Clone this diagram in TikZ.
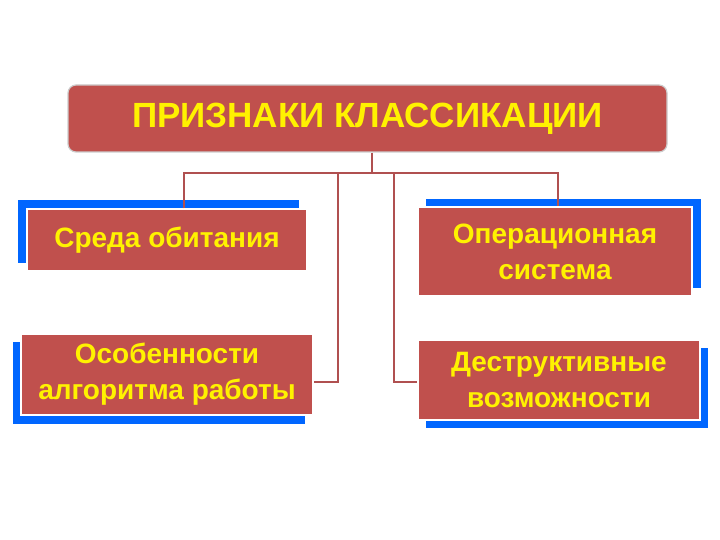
\documentclass[tikz,border=0pt]{standalone}
\usepackage{fontspec}
\setmainfont{Liberation Sans}
\definecolor{rb}{HTML}{C0504D}
\definecolor{bl}{HTML}{0066FF}
\definecolor{yl}{HTML}{FFF200}
\definecolor{ln}{HTML}{B05050}
\begin{document}
\begin{tikzpicture}[x=1pt,y=-1pt,
  card/.style={fill=rb,draw=white,line width=1.2pt,text=yl,font=\bfseries\fontsize{28}{36}\selectfont,align=center,inner sep=0pt},
  shade/.style={fill=bl},
  link/.style={draw=ln,line width=2pt}]
\useasboundingbox (0,0) rectangle (720,540);
% title
\node[card,rounded corners=8pt,draw=gray!40,minimum width=599pt,minimum height=67pt,font=\bfseries\fontsize{35}{40}\selectfont] (t) at (367.5,118.5) {ПРИЗНАКИ КЛАССИКАЦИИ};
% shadows
\fill[shade] (18,200) rectangle (299,263);
\fill[shade] (426,199) rectangle (701,288);
\fill[shade] (13,342) rectangle (305,424);
\fill[shade] (426,348) rectangle (708,428);
% boxes
\node[card,minimum width=280pt,minimum height=62pt] (a) at (167,240) {Среда обитания};
\node[card,minimum width=274pt,minimum height=89pt] (b) at (555,251.5) {Операционная\\система};
\node[card,minimum width=292pt,minimum height=81pt] (c) at (167,374.5) {Особенности\\алгоритма работы};
\node[card,minimum width=282pt,minimum height=80pt] (d) at (559,380) {Деструктивные\\возможности};
% connectors
\coordinate (j) at (372,173);
\draw[link] (t.south -| j) -- (j);
\draw[link] (a.north -| 184,0) -- (184,173) -- (558,173) -- (b.north -| 558,0);
\draw[link] (338,173) -- (338,382) -- (c.east |- 0,382);
\draw[link] (394,173) -- (394,382) -- (d.west |- 0,382);
\end{tikzpicture}
\end{document}
